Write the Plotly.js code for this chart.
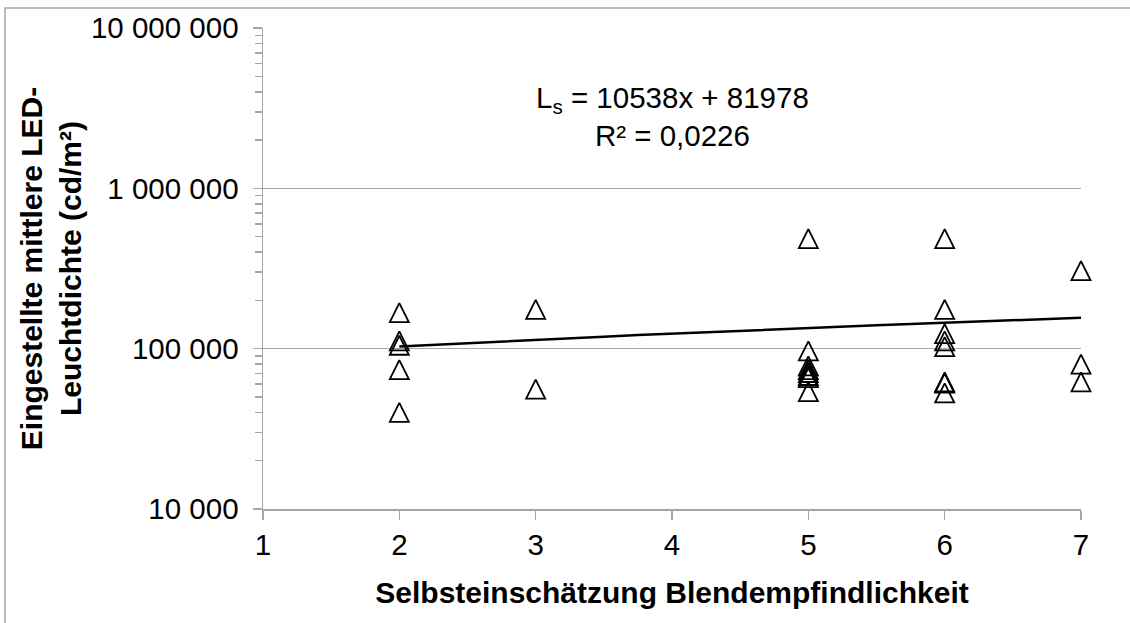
<!DOCTYPE html>
<html>
<head>
<meta charset="utf-8">
<script src="https://cdn.plot.ly/plotly-3.0.1.min.js"></script>
<style>
  html, body { margin: 0; padding: 0; background: #ffffff; }
  #chart { width: 1130px; height: 623px; }
</style>
</head>
<body>
<div id="chart"></div>
<script>
// ---- Data ----
const selfRating = [2, 2, 2, 2, 2,
                    3, 3,
                    5, 5, 5, 5, 5, 5, 5, 5,
                    6, 6, 6, 6, 6, 6, 6, 6,
                    7, 7, 7];
const luminance  = [168000, 112000, 105000, 74000, 40000,
                    176000, 56000,
                    485000, 97000, 78000, 74000, 71000, 68000, 66000, 54000,
                    485000, 176000, 124000, 112000, 103000, 62000, 61000, 53000,
                    307000, 80000, 62000];

// Linear trendline shown in the chart: Ls = 10538x + 81978, R² = 0,0226
const trendSlope = 10538;
const trendIntercept = 81978;
const trendRSquared = '0,0226';
const trendFrom = 2;
const trendTo = 7;

const xTickVals = [1, 2, 3, 4, 5, 6, 7];
const yTickVals = [10000, 100000, 1000000, 10000000];
const yTickText = ['10 000', '100 000', '1 000 000', '10 000 000'];

const xTitle = 'Selbsteinschätzung Blendempfindlichkeit';
const yTitle = 'Eingestellte mittlere LED-<br>Leuchtdichte (cd/m²)';

// ---- Derived ----
const trendX = [];
const trendY = [];
for (let i = 0; i <= 20; i++) {
  const x = trendFrom + (trendTo - trendFrom) * i / 20;
  trendX.push(x);
  trendY.push(trendSlope * x + trendIntercept);
}
const minorVals = [];
for (let d = 4; d < 7; d++) {
  for (let m = 2; m <= 9; m++) minorVals.push(m * Math.pow(10, d));
}

const GRAY = '#a6a6a6';
const FONT = 'Liberation Sans, Arial, Helvetica, sans-serif';
const TICK_SIZE = 29.5;
const TITLE_SIZE = 30;

const traces = [
  {
    x: trendX, y: trendY, type: 'scatter', mode: 'lines',
    line: { color: '#000000', width: 2.5 },
    hoverinfo: 'skip', cliponaxis: false
  },
  {
    x: selfRating, y: luminance, type: 'scatter', mode: 'markers',
    marker: {
      symbol: 'arrow-down-open', angle: 180, size: 19, standoff: 9.5,
      color: '#000000', line: { color: '#000000', width: 1.8 }
    },
    cliponaxis: false
  }
];

const layout = {
  width: 1130, height: 623,
  margin: { l: 263, r: 49, t: 28, b: 114, pad: 0 },
  paper_bgcolor: '#ffffff', plot_bgcolor: '#ffffff',
  showlegend: false,
  font: { family: FONT, color: '#000000', size: TICK_SIZE },
  xaxis: {
    range: [1, 7], tickmode: 'array', tickvals: xTickVals,
    ticks: 'outside', ticklen: 9, tickwidth: 1.5, tickcolor: GRAY,
    showline: true, linecolor: GRAY, linewidth: 1.5,
    showgrid: false, zeroline: false, automargin: false,
    tickfont: { family: FONT, size: TICK_SIZE, color: '#000000' },
    title: { text: xTitle, font: { family: FONT, size: TITLE_SIZE, weight: 'bold', color: '#000000' }, standoff: 22 }
  },
  yaxis: {
    type: 'log', range: [4, 7], tickmode: 'array', tickvals: yTickVals, ticktext: yTickText,
    ticks: 'outside', ticklen: 9, tickwidth: 1.5, tickcolor: GRAY, ticklabelstandoff: 8,
    showline: true, linecolor: GRAY, linewidth: 1.5,
    showgrid: true, gridcolor: GRAY, gridwidth: 1.5, zeroline: false, automargin: false,
    tickfont: { family: FONT, size: TICK_SIZE, color: '#000000' },
    minor: { tickmode: 'array', tickvals: minorVals, ticks: 'outside', ticklen: 7,
             tickwidth: 1.5, tickcolor: GRAY, showgrid: false },
    title: { text: yTitle, font: { family: FONT, size: TITLE_SIZE, weight: 'bold', color: '#000000' }, standoff: 0 }
  },
  annotations: [{
    xref: 'paper', yref: 'paper', x: 0.5, y: 0.817, xanchor: 'center', yanchor: 'middle',
    text: 'L<sub>s</sub> = ' + trendSlope + 'x + ' + trendIntercept + '<br>R² = ' + trendRSquared,
    showarrow: false, align: 'center',
    font: { family: FONT, size: TICK_SIZE, color: '#000000' }
  }],
  shapes: [{
    type: 'rect', xref: 'paper', yref: 'paper',
    x0: -0.3154, x1: 1.3, y0: -0.5, y1: 1.0416,
    line: { color: GRAY, width: 1.5 }, fillcolor: 'rgba(0,0,0,0)', layer: 'below'
  }]
};

Plotly.newPlot('chart', traces, layout, { staticPlot: true, displayModeBar: false });
</script>
</body>
</html>
